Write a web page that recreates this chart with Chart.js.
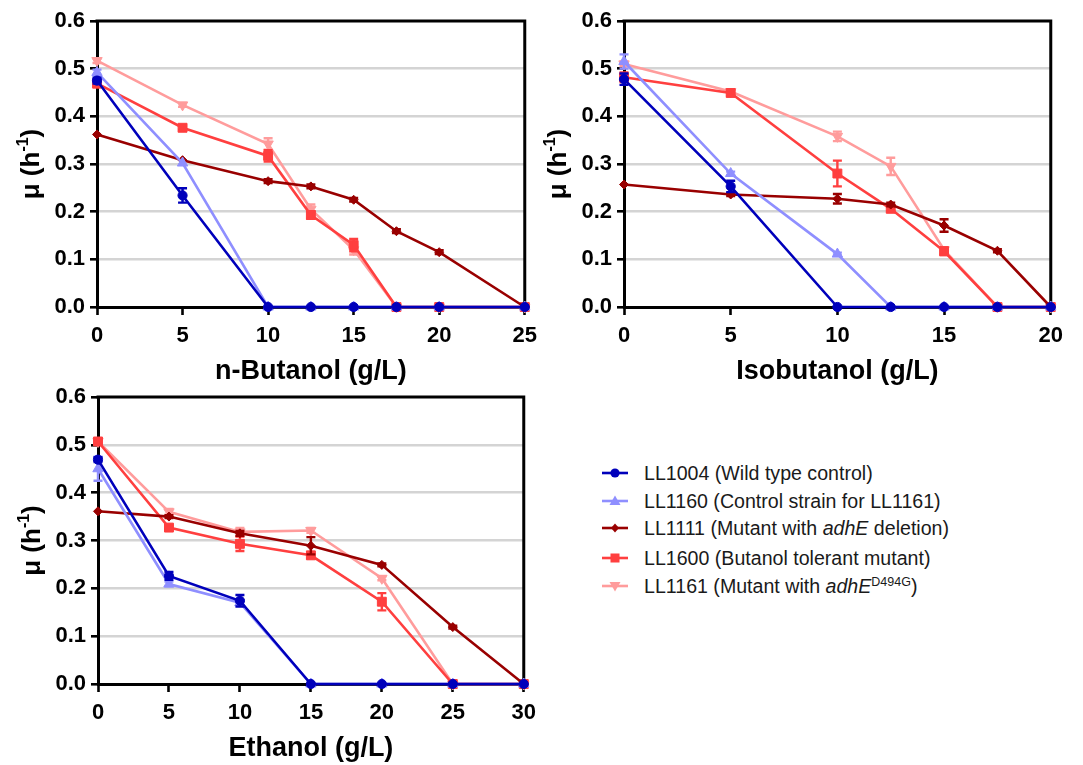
<!DOCTYPE html>
<html><head><meta charset="utf-8">
<script src="https://cdn.jsdelivr.net/npm/chart.js@4.4.0/dist/chart.umd.min.js"></script>
<style>
body{margin:0;background:#fff;width:1083px;height:765px;position:relative;overflow:hidden;font-family:'Liberation Sans',Arial,sans-serif}
.pane{position:absolute}
.leg{position:absolute;left:602px;height:22px;width:480px}
.leg svg{position:absolute;left:0;top:4px}
.leg span{position:absolute;left:42px;top:0;font-size:19.6px;line-height:22px;color:#1a1a1a;white-space:nowrap}
.leg sup{font-size:12.5px;vertical-align:7px;line-height:0}
</style></head>
<body>
<div class="pane" id="p1" style="left:0;top:0;width:545px;height:400px"><canvas id="c1"></canvas></div>
<div class="pane" id="p2" style="left:527px;top:0;width:544px;height:400px"><canvas id="c2"></canvas></div>
<div class="pane" id="p3" style="left:1px;top:376px;width:543px;height:401px"><canvas id="c3"></canvas></div>
<div id="legend"></div>
<script>
// ---- data ----
const seriesNames = ['LL1004 (Wild type control)','LL1160 (Control strain for LL1161)','LL1111 (Mutant with adhE deletion)','LL1600 (Butanol tolerant mutant)','LL1161 (Mutant with adhE D494G)'];
const seriesColors = ['#0000bb','#8f8fff','#990000','#ff3f3f','#ff9c9c'];
const seriesMarkers = ['circle','triangle','rectRot','rect','triangle'];

const nButanolX = [0,5,10,12.5,15,17.5,20,25];
const nButanol_LL1004 = [0.475,0.234,0,0,0,0,0,0];
const nButanol_LL1160 = [0.492,0.302,0,0,0,0,0,0];
const nButanol_LL1111 = [0.362,0.308,0.264,0.253,0.225,0.159,0.115,0];
const nButanol_LL1600 = [0.469,0.376,0.317,0.193,0.130,0,0,0];
const nButanol_LL1161 = [0.517,0.424,0.342,0.205,0.120,0,0,0];
const nButanolErr_LL1004 = [0.006,0.015,0,0,0,0,0,0];
const nButanolErr_LL1160 = [0.006,0,0,0,0,0,0,0];
const nButanolErr_LL1111 = [0,0,0.004,0.004,0.004,0.004,0.004,0];
const nButanolErr_LL1600 = [0.008,0.005,0.012,0.008,0.013,0,0,0];
const nButanolErr_LL1161 = [0.005,0.004,0.012,0.010,0.010,0,0,0];

const isobutanolX = [0,5,10,12.5,15,17.5,20];
const isobutanol_LL1004 = [0.478,0.253,0,0,0,0,0];
const isobutanol_LL1160 = [0.515,0.280,0.111,0,0,0,0];
const isobutanol_LL1111 = [0.257,0.236,0.227,0.215,0.171,0.118,0];
const isobutanol_LL1600 = [0.482,0.449,0.280,0.206,0.117,0,0];
const isobutanol_LL1161 = [0.510,0.452,0.358,0.295,0.120,0,0];
const isobutanolErr_LL1004 = [0.012,0.012,0,0,0,0,0];
const isobutanolErr_LL1160 = [0.015,0.004,0.003,0,0,0,0];
const isobutanolErr_LL1111 = [0,0.003,0.010,0.004,0.013,0.003,0];
const isobutanolErr_LL1600 = [0.010,0.006,0.027,0.005,0.008,0,0];
const isobutanolErr_LL1161 = [0.005,0.004,0.010,0.018,0,0,0];

const ethanolX = [0,5,10,15,20,25,30];
const ethanol_LL1004 = [0.469,0.226,0.174,0,0,0,0];
const ethanol_LL1160 = [0.450,0.209,0.170,0,0,0,0];
const ethanol_LL1111 = [0.361,0.350,0.315,0.289,0.249,0.119,0];
const ethanol_LL1600 = [0.507,0.327,0.293,0.269,0.172,0,0];
const ethanol_LL1161 = [0.507,0.360,0.318,0.321,0.221,0,0];
const ethanolErr_LL1004 = [0.005,0.008,0.012,0,0,0,0];
const ethanolErr_LL1160 = [0.025,0.005,0.005,0,0,0,0];
const ethanolErr_LL1111 = [0,0.003,0.005,0.018,0.003,0.003,0];
const ethanolErr_LL1600 = [0.007,0.005,0.015,0.006,0.018,0,0];
const ethanolErr_LL1161 = [0.005,0.006,0.008,0.005,0.004,0,0];

const yTicks = [0,0.1,0.2,0.3,0.4,0.5,0.6];

// ---- helpers ----
const FONT = "'Liberation Sans', Arial, sans-serif";
const radii = [4.6,6,4.5,6.3,6];
const rotations = [0,0,0,0,180];

function makeDatasets(xs, ys, errs){
  return ys.map((vals,i)=>({
    label: seriesNames[i],
    data: vals.map((v,j)=>({x:xs[j], y:v})),
    errors: errs[i],
    borderColor: seriesColors[i],
    backgroundColor: seriesColors[i],
    borderWidth: 2.6,
    pointStyle: seriesMarkers[i],
    pointRotation: rotations[i],
    pointRadius: radii[i],
    pointBorderWidth: 1,
    tension: 0,
    clip: false
  }));
}

const errorBarPlugin = {
  id:'errorBars',
  afterDatasetDraw(chart, args){
    const ds = chart.data.datasets[args.index];
    if(!ds.errors) return;
    const ctx = chart.ctx, ys = chart.scales.y;
    ctx.save();
    ctx.strokeStyle = ds.borderColor; ctx.lineWidth = 2.4;
    args.meta.data.forEach((pt,j)=>{
      const e = ds.errors[j]; if(!e) return;
      const v = ds.data[j].y;
      const yt = ys.getPixelForValue(v+e), yb = ys.getPixelForValue(v-e);
      const x = pt.x;
      ctx.beginPath();
      ctx.moveTo(x,yt); ctx.lineTo(x,yb);
      ctx.moveTo(x-4.5,yt); ctx.lineTo(x+4.5,yt);
      ctx.moveTo(x-4.5,yb); ctx.lineTo(x+4.5,yb);
      ctx.stroke();
    });
    ctx.restore();
  }
};

const framePlugin = {
  id:'frame',
  beforeDatasetsDraw(chart){
    const {ctx, chartArea:a} = chart;
    ctx.save();
    ctx.strokeStyle = '#000'; ctx.lineWidth = 3;
    ctx.beginPath();
    ctx.moveTo(a.left-1.5, a.top); ctx.lineTo(a.right, a.top); ctx.lineTo(a.right, a.bottom+1.5);
    ctx.stroke();
    ctx.restore();
  }
};

const yTitlePlugin = {
  id:'yTitle',
  afterDraw(chart){
    const {ctx, chartArea:a} = chart;
    const big = 'bold 26px '+FONT, small = 'bold 16px '+FONT;
    const p1 = 'μ (h', sup = '-1', p2 = ')';
    ctx.save();
    ctx.translate(a.left-67, (a.top+a.bottom)/2);
    ctx.rotate(-Math.PI/2);
    ctx.fillStyle = '#000'; ctx.textBaseline = 'alphabetic'; ctx.textAlign = 'left';
    ctx.font = big; const w1 = ctx.measureText(p1).width, w3 = ctx.measureText(p2).width;
    ctx.font = small; const w2 = ctx.measureText(sup).width;
    let x = -(w1+w2+w3)/2; const base = 9;
    ctx.font = big; ctx.fillText(p1, x, base); x += w1;
    ctx.font = small; ctx.fillText(sup, x, base-11); x += w2;
    ctx.font = big; ctx.fillText(p2, x, base);
    ctx.restore();
  }
};

function makeChart(id, xs, ys, errs, xMax, xTitle){
  return new Chart(document.getElementById(id), {
    type:'line',
    data:{ datasets: makeDatasets(xs, ys, errs) },
    options:{
      responsive:true, maintainAspectRatio:false, animation:false, devicePixelRatio:1,
      layout:{ padding:{ left:0, right:16, top:21, bottom:0 } },
      plugins:{ legend:{display:false}, tooltip:{enabled:false} },
      scales:{
        x:{
          type:'linear', min:0, max:xMax,
          afterFit(s){ s.height = 93; },
          ticks:{ stepSize:5, autoSkip:false, maxRotation:0, padding:8, color:'#000', font:{family:FONT, size:22, weight:'bold'} },
          grid:{ drawOnChartArea:false, drawTicks:true, tickLength:8, tickColor:'#000', tickWidth:2.6 },
          border:{ display:true, color:'#000', width:3 },
          title:{ display:true, text:xTitle, color:'#000', padding:{top:0,bottom:12}, font:{family:FONT, size:27, weight:'bold'} }
        },
        y:{
          type:'linear', min:0, max:0.6,
          afterFit(s){ s.width = 97; },
          afterBuildTicks(s){ s.ticks = yTicks.map(v=>({value:v})); },
          ticks:{ autoSkip:false, padding:5, color:'#000', font:{family:FONT, size:22, weight:'bold'}, callback:v=>Number(v).toFixed(1) },
          grid:{ color:c => (c.tick && (c.tick.value===0 || c.tick.value>=0.6)) ? 'rgba(0,0,0,0)' : '#d4d4d4', lineWidth:2.6, drawTicks:true, tickLength:7, tickColor:'#000', tickWidth:2.6 },
          border:{ display:true, color:'#000', width:3 }
        }
      }
    },
    plugins:[errorBarPlugin, framePlugin, yTitlePlugin]
  });
}

makeChart('c1', nButanolX,
  [nButanol_LL1004,nButanol_LL1160,nButanol_LL1111,nButanol_LL1600,nButanol_LL1161],
  [nButanolErr_LL1004,nButanolErr_LL1160,nButanolErr_LL1111,nButanolErr_LL1600,nButanolErr_LL1161],
  25, 'n-Butanol (g/L)');
makeChart('c2', isobutanolX,
  [isobutanol_LL1004,isobutanol_LL1160,isobutanol_LL1111,isobutanol_LL1600,isobutanol_LL1161],
  [isobutanolErr_LL1004,isobutanolErr_LL1160,isobutanolErr_LL1111,isobutanolErr_LL1600,isobutanolErr_LL1161],
  20, 'Isobutanol (g/L)');
makeChart('c3', ethanolX,
  [ethanol_LL1004,ethanol_LL1160,ethanol_LL1111,ethanol_LL1600,ethanol_LL1161],
  [ethanolErr_LL1004,ethanolErr_LL1160,ethanolErr_LL1111,ethanolErr_LL1600,ethanolErr_LL1161],
  30, 'Ethanol (g/L)');

// ---- legend (HTML) ----
const legendHTML = [
  'LL1004 (Wild type control)',
  'LL1160 (Control strain for LL1161)',
  'LL1111 (Mutant with <i>adhE</i> deletion)',
  'LL1600 (Butanol tolerant mutant)',
  'LL1161 (Mutant with <i>adhE</i><sup>D494G</sup>)'
];
const legendRowY = [473,501,528,558,586];
function markerSVG(i){
  const c = seriesColors[i];
  let m;
  if(i===0) m = `<circle cx="13" cy="7" r="4.6" fill="${c}"/>`;
  else if(i===1) m = `<polygon points="13,1.5 18.5,11 7.5,11" fill="${c}"/>`;
  else if(i===2) m = `<polygon points="13,2.5 17,7 13,11.5 9,7" fill="${c}"/>`;
  else if(i===3) m = `<rect x="8.5" y="2.5" width="9" height="9" fill="${c}"/>`;
  else m = `<polygon points="13,12.5 18.5,3 7.5,3" fill="${c}"/>`;
  return `<svg width="26" height="14"><line x1="0" y1="7" x2="26" y2="7" stroke="${c}" stroke-width="2.6"/>${m}</svg>`;
}
document.getElementById('legend').innerHTML = legendHTML.map((t,i)=>
  `<div class="leg" style="top:${legendRowY[i]-11}px">${markerSVG(i)}<span>${t}</span></div>`).join('');
</script>
</body></html>
